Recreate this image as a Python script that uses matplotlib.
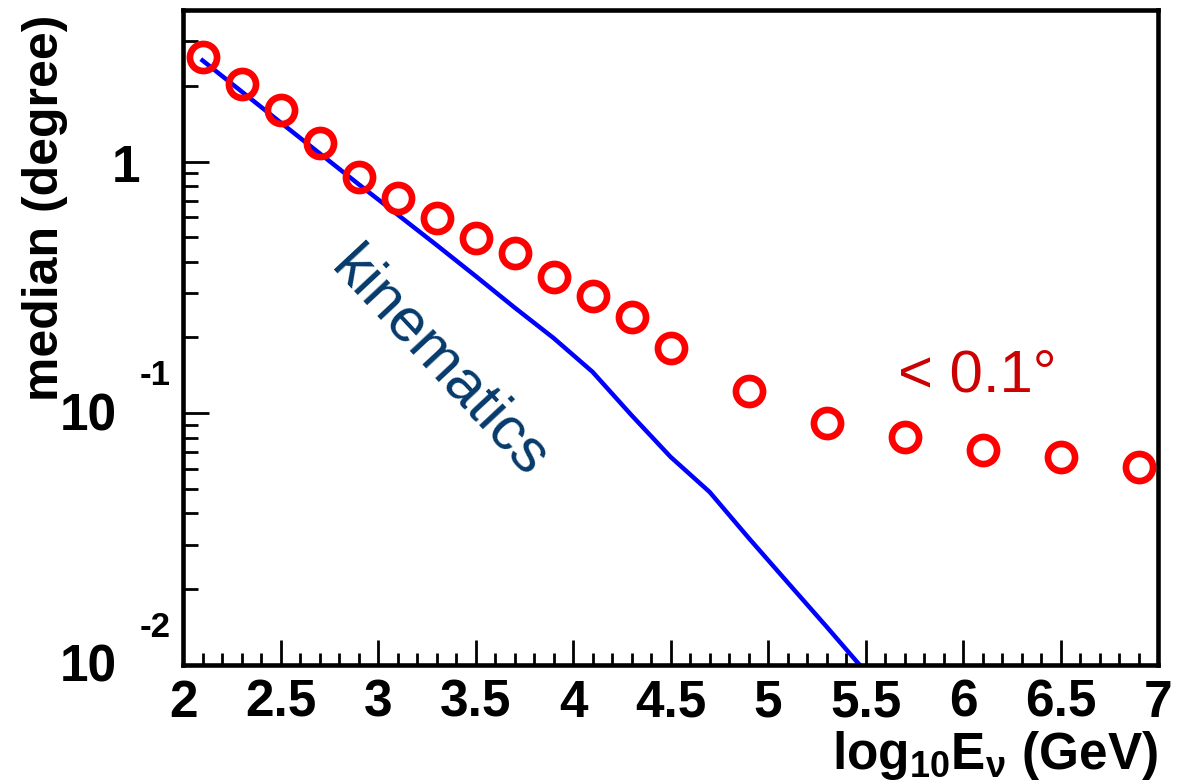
import numpy as np
import matplotlib
matplotlib.use("Agg")
import matplotlib.pyplot as plt
from matplotlib.ticker import MultipleLocator, LogLocator, NullFormatter, FuncFormatter
from matplotlib.transforms import offset_copy

# ---- DATA ---- #
# red circles: median angular resolution
log_e_pts = [2.1, 2.3, 2.5, 2.7, 2.9, 3.1, 3.3, 3.5, 3.7, 3.9, 4.1, 4.3, 4.5,
             4.9, 5.3, 5.7, 6.1, 6.5, 6.9]
median_pts = [2.61, 2.03, 1.60, 1.18, 0.864, 0.715, 0.596, 0.496, 0.433, 0.347,
              0.293, 0.241, 0.182, 0.123, 0.0913, 0.0808, 0.0716, 0.0673, 0.0614]

# blue line: kinematic limit
log_e_kin = [2.1, 2.5, 2.9, 3.3, 3.5, 3.7, 3.9, 4.1, 4.3, 4.5, 4.7, 4.9, 5.1, 5.3, 5.47]
median_kin = [2.52, 1.43, 0.813, 0.466, 0.351, 0.263, 0.199, 0.146, 0.0982,
              0.0671, 0.0487, 0.0320, 0.0213, 0.0142, 0.0100]

ytick_vals = [1, 0.1, 0.01]
ytick_mant = ["1", "10", "10"]
ytick_exp = ["", "-1", "-2"]

# ---- STYLE ---- #
plt.rcParams["font.family"] = ["Liberation Sans", "DejaVu Sans"]
plt.rcParams["mathtext.fontset"] = "custom"
plt.rcParams["mathtext.rm"] = "Liberation Sans:bold"
plt.rcParams["mathtext.it"] = "Liberation Sans:bold"
plt.rcParams["mathtext.bf"] = "Liberation Sans:bold"

fig = plt.figure(figsize=(11.77, 7.84), dpi=100)
ax = fig.add_axes([0.1555, 0.1518, 0.8284, 0.8355])

ax.plot(log_e_kin, median_kin, color="#0000ff", lw=3.2, zorder=2)
ax.plot(log_e_pts, median_pts, "o", ms=19.5, mfc="none", mec="#ff0000", mew=4.8,
        zorder=3, clip_on=False)

ax.set_yscale("log")
ax.set_xlim(2, 7)
ax.set_ylim(0.01, 4.0)

# ---- AXES (ROOT look) ---- #
for s in ax.spines.values():
    s.set_linewidth(3.3)
ax.xaxis.set_major_locator(MultipleLocator(0.5))
ax.xaxis.set_minor_locator(MultipleLocator(0.1))
ax.xaxis.set_major_formatter(FuncFormatter(lambda v, p: f"{v:g}"))
ax.yaxis.set_major_locator(LogLocator(base=10))
ax.yaxis.set_minor_locator(LogLocator(base=10, subs=range(2, 10)))
ax.yaxis.set_major_formatter(NullFormatter())
ax.yaxis.set_minor_formatter(NullFormatter())

ax.tick_params(which="both", direction="in", top=False, right=False, width=2)
ax.tick_params(axis="x", which="major", length=18, labelsize=37, pad=10)
ax.tick_params(axis="x", which="minor", length=9)
ax.tick_params(axis="y", which="major", length=19)
ax.tick_params(axis="y", which="minor", length=11)
for lab in ax.get_xticklabels():
    lab.set_fontweight("bold")

# y tick labels drawn ROOT-style: big "10" with raised exponent
ytrans = ax.get_yaxis_transform()
for val, mant, ex in zip(ytick_vals, ytick_mant, ytick_exp):
    if mant == "1":
        t = offset_copy(ytrans, fig=fig, y=-20, units="dots")
        ax.text(-0.0728, val, mant, transform=t, fontsize=37, fontweight="bold",
                ha="left", va="baseline")
        continue
    t = offset_copy(ytrans, fig=fig, y=-17, units="dots")
    ax.text(-0.1262, val, mant, transform=t, fontsize=37, fontweight="bold",
            ha="left", va="baseline")
    t2 = offset_copy(ytrans, fig=fig, y=28, units="dots")
    ax.text(-0.0441, val, ex, transform=t2, fontsize=25, fontweight="bold",
            ha="left", va="baseline")

ax.text(1.0, -0.1595, r"log$_{10}$E$_{\nu}$ (GeV)", transform=ax.transAxes,
        fontsize=37, fontweight="bold", ha="right", va="baseline")
fig.text(45 / 1177, 1 - 15 / 784, "median (degree)", rotation=90, fontsize=36,
         fontweight="bold", ha="center", va="top")

# annotations
ax.text(3.313, 0.157, "kinematics", color="#063a6b", fontsize=44, rotation=-47,
        ha="center", va="center", transform=ax.transData)
ax.text(0.7333, 0.4173, "< 0.1\u00b0", color="#cc0000", fontsize=43,
        ha="left", va="baseline", transform=ax.transAxes)

fig.savefig("out.png", dpi=100)
